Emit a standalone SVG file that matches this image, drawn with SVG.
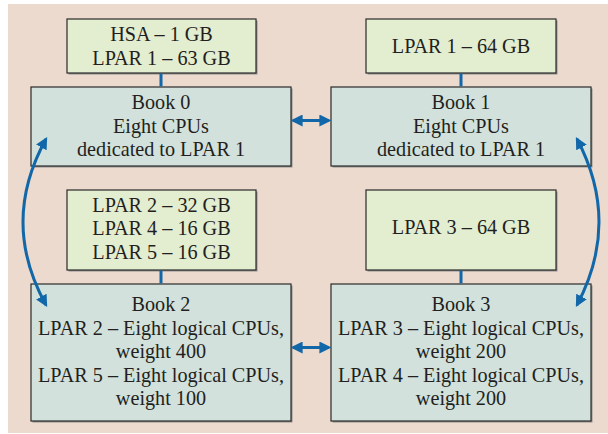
<svg xmlns="http://www.w3.org/2000/svg" width="608" height="434" viewBox="0 0 608 434">
<defs>
<style>
.mem{fill:#e3edd0;stroke:#2a2a2a;stroke-width:1.2}
.book{fill:#d2e1db;stroke:#2a2a2a;stroke-width:1.2}
.sh{fill:#8f8f8f}
text{font-family:"Liberation Serif","Times New Roman",serif;font-size:20.2px;fill:#231f20;text-anchor:middle}
.ln{stroke:#1167a8;stroke-width:3;fill:none}
</style>
<marker id="ah" viewBox="0 0 10 10" refX="8" refY="5" markerWidth="4" markerHeight="4" markerUnits="strokeWidth" orient="auto-start-reverse">
<path d="M0,0 L10,5 L0,10 z" fill="#1167a8"/>
</marker>
</defs>
<rect x="8" y="4" width="600" height="429" fill="#ebdacd"/>
<g id="mem0">
<rect class="sh" x="68.5" y="20.5" width="189" height="54"/>
<rect class="mem" x="67" y="19" width="189" height="54"/>
<text x="161.5" y="41">HSA – 1 GB</text>
<text x="161.5" y="64.5">LPAR 1 – 63 GB</text>
</g>
<g id="mem1">
<rect class="sh" x="367.5" y="20.5" width="190" height="54"/>
<rect class="mem" x="366" y="19" width="190" height="54"/>
<text x="461" y="53">LPAR 1 – 64 GB</text>
</g>
<g id="book0">
<rect class="sh" x="32.5" y="88.5" width="260" height="79"/>
<rect class="book" x="31" y="87" width="260" height="79"/>
<text x="161" y="109">Book 0</text>
<text x="161" y="132.5">Eight CPUs</text>
<text x="161" y="156">dedicated to LPAR 1</text>
</g>
<g id="book1">
<rect class="sh" x="332.5" y="88.5" width="260" height="79"/>
<rect class="book" x="331" y="87" width="260" height="79"/>
<text x="461" y="109">Book 1</text>
<text x="461" y="132.5">Eight CPUs</text>
<text x="461" y="156">dedicated to LPAR 1</text>
</g>
<g id="mem2">
<rect class="sh" x="68.5" y="191.5" width="189" height="80"/>
<rect class="mem" x="67" y="190" width="189" height="80"/>
<text x="161.5" y="211.5">LPAR 2 – 32 GB</text>
<text x="161.5" y="235">LPAR 4 – 16 GB</text>
<text x="161.5" y="258.5">LPAR 5 – 16 GB</text>
</g>
<g id="mem3">
<rect class="sh" x="367.5" y="191.5" width="190" height="80"/>
<rect class="mem" x="366" y="190" width="190" height="80"/>
<text x="461" y="234">LPAR 3 – 64 GB</text>
</g>
<g id="book2">
<rect class="sh" x="32.5" y="285.5" width="260" height="137"/>
<rect class="book" x="31" y="284" width="260" height="137"/>
<text x="161" y="311">Book 2</text>
<text x="161" y="334.5">LPAR 2 – Eight logical CPUs,</text>
<text x="161" y="358">weight 400</text>
<text x="161" y="381.5">LPAR 5 – Eight logical CPUs,</text>
<text x="161" y="405">weight 100</text>
</g>
<g id="book3">
<rect class="sh" x="332.5" y="285.5" width="260" height="137"/>
<rect class="book" x="331" y="284" width="260" height="137"/>
<text x="461" y="311">Book 3</text>
<text x="461" y="334.5">LPAR 3 – Eight logical CPUs,</text>
<text x="461" y="358">weight 200</text>
<text x="461" y="381.5">LPAR 4 – Eight logical CPUs,</text>
<text x="461" y="405">weight 200</text>
</g>
<g id="connectors">
<line class="ln" x1="161" y1="73.6" x2="161" y2="86.4"/>
<line class="ln" x1="461" y1="73.6" x2="461" y2="86.4"/>
<line class="ln" x1="161" y1="270.6" x2="161" y2="283.4"/>
<line class="ln" x1="461" y1="270.6" x2="461" y2="283.4"/>
<line class="ln" x1="293" y1="120.5" x2="329" y2="120.5" marker-start="url(#ah)" marker-end="url(#ah)"/>
<line class="ln" x1="293" y1="347.5" x2="329" y2="347.5" marker-start="url(#ah)" marker-end="url(#ah)"/>
<path class="ln" d="M46,139 Q0,222 46,305" marker-start="url(#ah)" marker-end="url(#ah)"/>
<path class="ln" d="M577,139 Q621,222 577,305" marker-start="url(#ah)" marker-end="url(#ah)"/>
</g>
</svg>
